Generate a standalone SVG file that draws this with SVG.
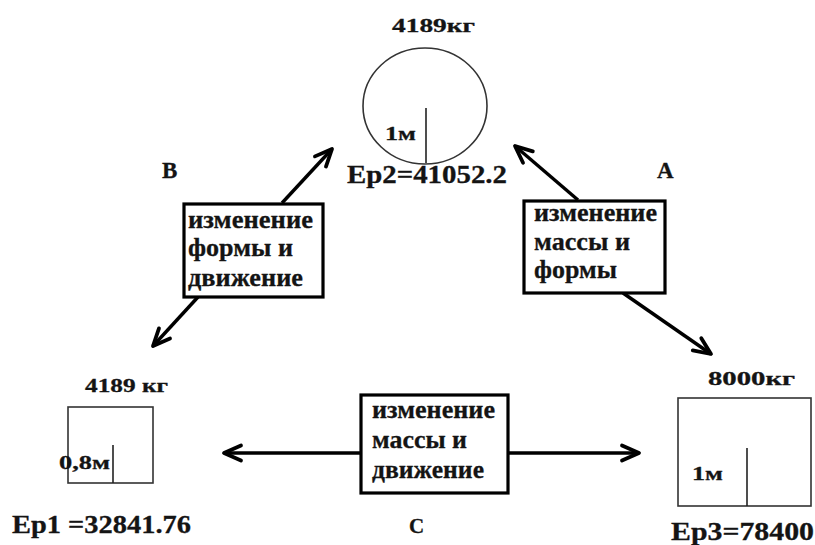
<svg xmlns="http://www.w3.org/2000/svg" width="815" height="545" viewBox="0 0 815 545">
  <defs>
    <marker id="head" viewBox="-20 -11 24 22" refX="0" refY="0" markerWidth="24" markerHeight="22" orient="auto" markerUnits="userSpaceOnUse">
      <path d="M-17,-7.5 L0,0 L-17,7.5" fill="none" stroke="#000" stroke-width="3.8" stroke-linecap="round" stroke-linejoin="round"/>
    </marker>
  </defs>
  <style>
    text { font-family: "Liberation Serif", "Times New Roman", serif; font-weight: 700; fill: #141414; stroke: #141414; stroke-width: 0.3; }
    .lbl { font-size: 19px; }
    .shape { fill: #fff; stroke: #333; stroke-width: 1.6; }
    .tick { stroke: #222; stroke-width: 1.6; }
    .box { fill: #fff; stroke: #000; stroke-width: 3.2; }
    .conn { stroke: #000; stroke-width: 3.4; fill: none; marker-end: url(#head); }
  </style>
  <rect width="815" height="545" fill="#fff"/>

  <!-- connectors -->
  <g id="connectors">
    <line class="conn" x1="282" y1="203" x2="332" y2="149"/>
    <line class="conn" x1="198" y1="297" x2="153" y2="346"/>
    <line class="conn" x1="578" y1="200" x2="515" y2="146"/>
    <line class="conn" x1="623" y1="293" x2="711" y2="354"/>
    <line class="conn" x1="361" y1="453" x2="224" y2="453"/>
    <line class="conn" x1="508" y1="453" x2="639" y2="453"/>
  </g>

  <!-- sphere state -->
  <g id="sphere">
    <text class="lbl" x="392" y="32" textLength="83" lengthAdjust="spacingAndGlyphs">4189кг</text>
    <ellipse class="shape" cx="425" cy="106" rx="62" ry="58"/>
    <line class="tick" x1="426" y1="108" x2="426" y2="163"/>
    <text class="lbl" x="385" y="140" textLength="31" lengthAdjust="spacingAndGlyphs">1м</text>
    <text font-size="26" x="347" y="183" textLength="160" lengthAdjust="spacingAndGlyphs">Ep2=41052.2</text>
  </g>

  <!-- small cube state -->
  <g id="cube-small">
    <text class="lbl" x="85" y="392" textLength="83" lengthAdjust="spacingAndGlyphs">4189 кг</text>
    <rect class="shape" x="68" y="407" width="85" height="76"/>
    <line class="tick" x1="113" y1="445" x2="113" y2="483"/>
    <text class="lbl" x="59" y="469" textLength="51" lengthAdjust="spacingAndGlyphs">0,8м</text>
    <text font-size="26" x="12" y="533" textLength="179" lengthAdjust="spacingAndGlyphs">Ep1 =32841.76</text>
  </g>

  <!-- large cube state -->
  <g id="cube-large">
    <text class="lbl" x="708" y="385" textLength="87" lengthAdjust="spacingAndGlyphs">8000кг</text>
    <rect class="shape" x="678" y="398" width="133" height="108"/>
    <line class="tick" x1="747" y1="448" x2="747" y2="506"/>
    <text class="lbl" x="692" y="480" textLength="31" lengthAdjust="spacingAndGlyphs">1м</text>
    <text font-size="26" x="671" y="540" textLength="143" lengthAdjust="spacingAndGlyphs">Ep3=78400</text>
  </g>

  <!-- transition B -->
  <g id="transition-b">
    <text font-size="23" x="162" y="178">B</text>
    <rect class="box" x="184" y="204" width="139" height="93"/>
    <text font-size="26" x="188" y="228" textLength="125" lengthAdjust="spacingAndGlyphs">изменение</text>
    <text font-size="26" x="188" y="256" textLength="105" lengthAdjust="spacingAndGlyphs">формы и</text>
    <text font-size="26" x="188" y="286" textLength="115" lengthAdjust="spacingAndGlyphs">движение</text>
  </g>

  <!-- transition A -->
  <g id="transition-a">
    <text font-size="23" x="657" y="178">A</text>
    <rect class="box" x="524" y="201" width="141" height="92"/>
    <text font-size="26" x="534" y="221" textLength="123" lengthAdjust="spacingAndGlyphs">изменение</text>
    <text font-size="26" x="534" y="250" textLength="96" lengthAdjust="spacingAndGlyphs">массы и</text>
    <text font-size="26" x="534" y="278" textLength="83" lengthAdjust="spacingAndGlyphs">формы</text>
  </g>

  <!-- transition C -->
  <g id="transition-c">
    <rect class="box" x="361" y="395" width="147" height="98"/>
    <text font-size="26" x="372" y="418" textLength="123" lengthAdjust="spacingAndGlyphs">изменение</text>
    <text font-size="26" x="372" y="448" textLength="95" lengthAdjust="spacingAndGlyphs">массы и</text>
    <text font-size="26" x="372" y="478" textLength="112" lengthAdjust="spacingAndGlyphs">движение</text>
    <text font-size="21" x="409" y="533">C</text>
  </g>
</svg>
